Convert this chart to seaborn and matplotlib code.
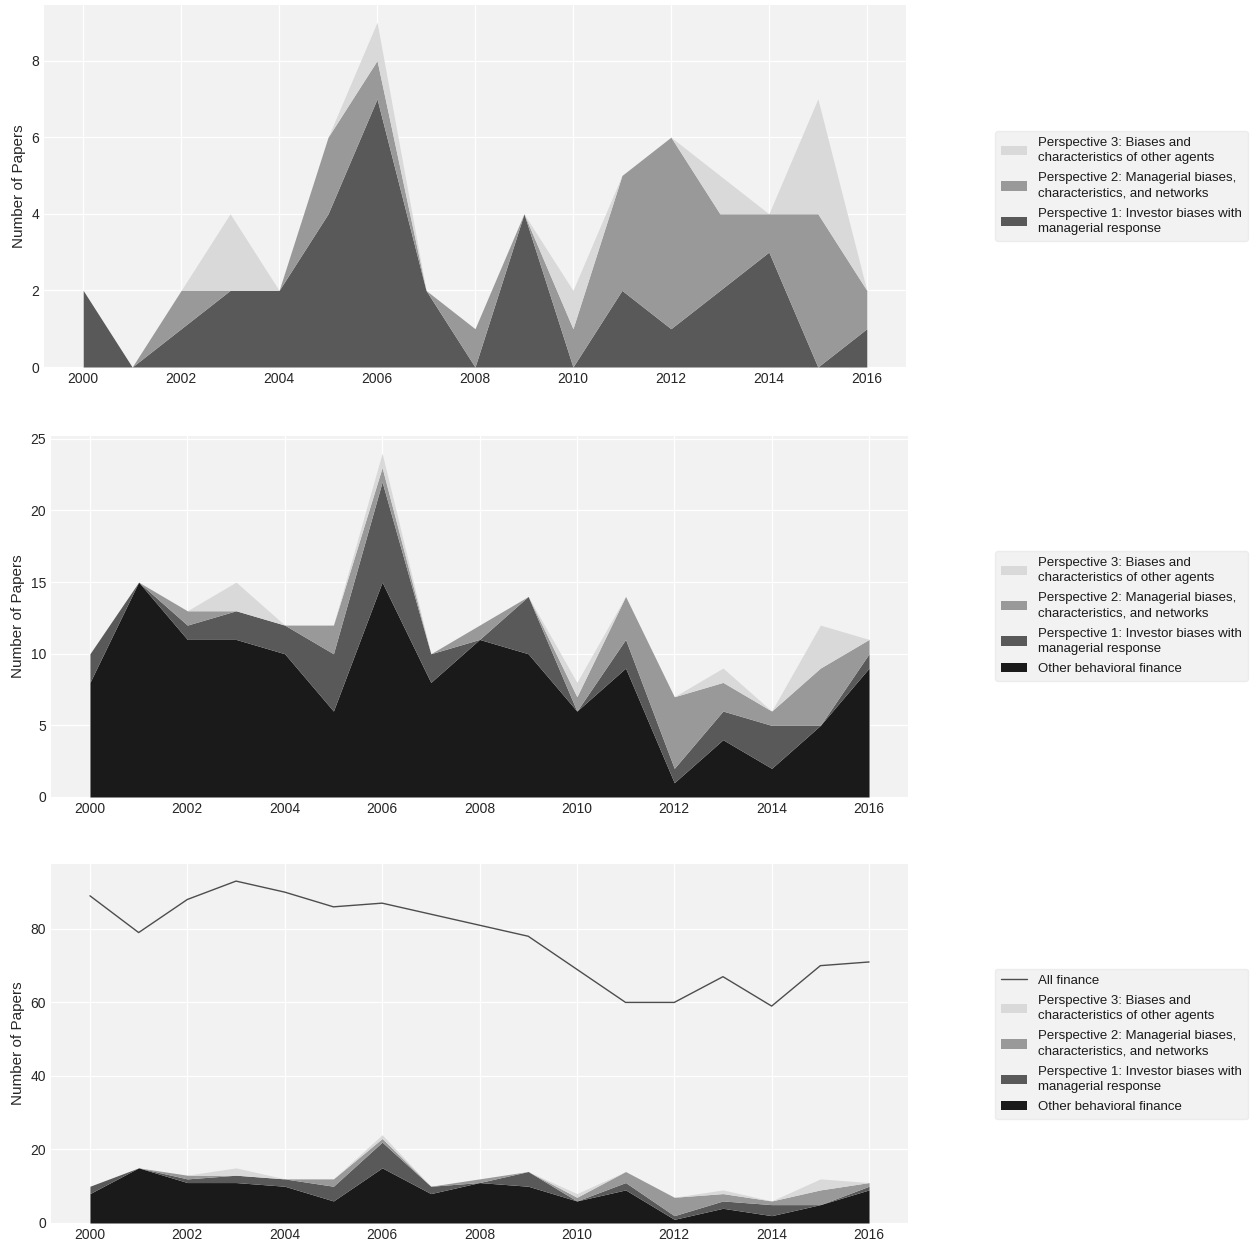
import matplotlib
matplotlib.use("Agg")
import matplotlib.pyplot as plt
import seaborn as sns
import numpy as np
import pandas as pd

years = list(range(2000, 2017))
other_bf = [8, 15, 11, 11, 10, 6, 15, 8, 11, 10, 6, 9, 1, 4, 2, 5, 9]
persp1 = [2, 0, 1, 2, 2, 4, 7, 2, 0, 4, 0, 2, 1, 2, 3, 0, 1]
persp2 = [0, 0, 1, 0, 0, 2, 1, 0, 1, 0, 1, 3, 5, 2, 1, 4, 1]
persp3 = [0, 0, 0, 2, 0, 0, 1, 0, 0, 0, 1, 0, 0, 1, 0, 3, 0]
all_finance = [89, 79, 88, 93, 90, 86, 87, 84, 81, 78, 69, 60, 60, 67, 59, 70, 71]

lab_p3 = "Perspective 3: Biases and\ncharacteristics of other agents"
lab_p2 = "Perspective 2: Managerial biases,\ncharacteristics, and networks"
lab_p1 = "Perspective 1: Investor biases with\nmanagerial response"
lab_other = "Other behavioral finance"
lab_all = "All finance"

df = pd.DataFrame({"year": years, "all": all_finance})

c_p3, c_p2, c_p1, c_other = "#d9d9d9", "#999999", "#595959", "#1a1a1a"

sns.set_theme(style="darkgrid", rc={
    "axes.facecolor": "#f2f2f2",
    "grid.color": "white",
    "grid.linewidth": 0.9,
    "figure.facecolor": "white",
})
plt.rcParams["font.family"] = ["Liberation Sans", "DejaVu Sans"]

W, H = 1253, 1245
fig = plt.figure(figsize=(W / 100, H / 100), dpi=100)

def add_ax(left, right, top, bottom):
    return fig.add_axes([left / W, 1 - bottom / H, (right - left) / W, (bottom - top) / H])

ax1 = add_ax(44, 906, 5, 367)
ax2 = add_ax(51, 908, 436, 797)
ax3 = add_ax(51, 908, 864, 1223)

def style(ax, yticks):
    ax.set_xticks(range(2000, 2017, 2))
    ax.set_yticks(yticks)
    ax.tick_params(axis="both", labelsize=10, colors="#262626", length=0)
    ax.set_ylabel("Number of Papers", fontsize=11, color="#262626")
    ax.set_xlabel("")
    for s in ax.spines.values():
        s.set_visible(False)

def add_legend(ax, handles, labels, ycenter):
    leg = ax.legend(handles, labels, loc="center left",
                    bbox_to_anchor=(995 / W, 1 - ycenter / H),
                    bbox_transform=fig.transFigure, borderaxespad=0,
                    fontsize=9.5, frameon=True, facecolor="#f2f2f2",
                    edgecolor="#ececec", framealpha=1.0, fancybox=True,
                    labelspacing=0.62, borderpad=0.45)
    for t in leg.get_texts():
        t.set_color("#1a1a1a")
        t.set_linespacing(1.35)
    return leg

# Top panel
polys = ax1.stackplot(years, persp1, persp2, persp3,
                      colors=[c_p1, c_p2, c_p3], linewidth=0)
style(ax1, [0, 2, 4, 6, 8])
add_legend(ax1, polys[::-1], [lab_p3, lab_p2, lab_p1], 186)

# Middle panel
polys2 = ax2.stackplot(years, other_bf, persp1, persp2, persp3,
                       colors=[c_other, c_p1, c_p2, c_p3], linewidth=0)
style(ax2, [0, 5, 10, 15, 20, 25])
add_legend(ax2, polys2[::-1], [lab_p3, lab_p2, lab_p1, lab_other], 616)

# Bottom panel
polys3 = ax3.stackplot(years, other_bf, persp1, persp2, persp3,
                       colors=[c_other, c_p1, c_p2, c_p3], linewidth=0)
sns.lineplot(data=df, x="year", y="all", ax=ax3, color="#4d4d4d", linewidth=1.0)
ax3.margins(x=0.05)
ax3.set_ylim(0, 93 * 1.05)
style(ax3, [0, 20, 40, 60, 80])
line_handle = ax3.get_lines()[0]
add_legend(ax3, [line_handle] + list(polys3[::-1]),
           [lab_all, lab_p3, lab_p2, lab_p1, lab_other], 1044)

fig.savefig("out.png", dpi=100)
